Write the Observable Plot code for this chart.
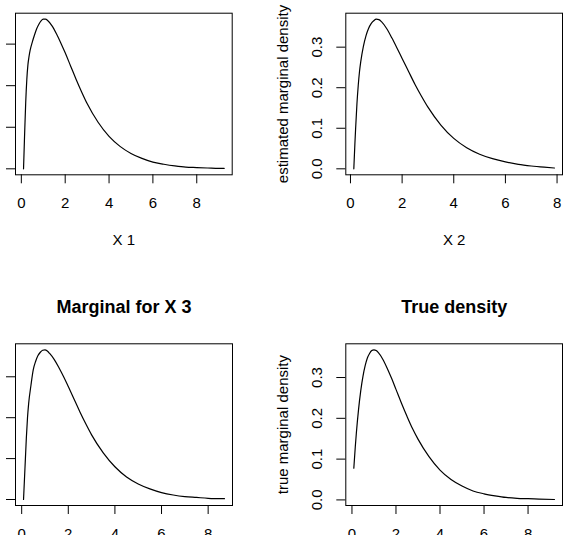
<!DOCTYPE html>
<html>
<head>
<meta charset="utf-8">
<script src="https://cdn.jsdelivr.net/npm/d3@7"></script>
<script src="https://cdn.jsdelivr.net/npm/@observablehq/plot@0.6"></script>
<style>
  body { margin: 0; background: #fff; }
  #root { position: relative; width: 572px; height: 535px; overflow: hidden; background: #fff; }
  .panel { position: absolute; overflow: visible; }
  .panel svg { max-width: none; display: block; overflow: visible; }
</style>
</head>
<body>
<div id="root"></div>
<script>
// ---- data ----
// Panel 1: estimated marginal for X 1
const x1 = [0.1, 0.13, 0.16, 0.2, 0.25, 0.3, 0.35, 0.4, 0.5, 0.6, 0.7, 0.8, 0.9, 1.0, 1.1, 1.2, 1.4, 1.6, 1.8, 2.0, 2.25, 2.5, 2.75, 3.0, 3.5, 4.0, 4.5, 5.0, 5.5, 6.0, 6.5, 7.0, 7.5, 8.0, 8.5, 9.0, 9.25];
const y1 = [0.0, 0.05, 0.1, 0.16, 0.215, 0.25, 0.27, 0.285, 0.305, 0.322, 0.337, 0.348, 0.356, 0.36, 0.36, 0.357, 0.344, 0.325, 0.303, 0.279, 0.247, 0.215, 0.185, 0.157, 0.112, 0.078, 0.054, 0.037, 0.025, 0.016, 0.011, 0.007, 0.004, 0.003, 0.002, 0.001, 0.001];
// Panel 2: estimated marginal for X 2
const x2 = [0.13, 0.17, 0.2, 0.25, 0.3, 0.35, 0.4, 0.5, 0.6, 0.7, 0.8, 0.9, 1.0, 1.1, 1.2, 1.4, 1.6, 1.8, 2.0, 2.25, 2.5, 2.75, 3.0, 3.5, 4.0, 4.5, 5.0, 5.5, 6.0, 6.5, 7.0, 7.5, 7.9];
const y2 = [0.0, 0.06, 0.1, 0.16, 0.205, 0.24, 0.265, 0.302, 0.328, 0.346, 0.358, 0.365, 0.369, 0.368, 0.363, 0.346, 0.323, 0.298, 0.272, 0.24, 0.208, 0.179, 0.152, 0.108, 0.075, 0.052, 0.036, 0.025, 0.017, 0.011, 0.007, 0.004, 0.002];
// Panel 3: estimated marginal for X 3
const x3 = [0.08, 0.12, 0.16, 0.2, 0.25, 0.3, 0.4, 0.5, 0.6, 0.7, 0.8, 0.9, 1.0, 1.1, 1.2, 1.4, 1.6, 1.8, 2.0, 2.25, 2.5, 2.75, 3.0, 3.5, 4.0, 4.5, 5.0, 5.5, 6.0, 6.5, 7.0, 7.5, 8.0, 8.7];
const y3 = [0.0, 0.05, 0.1, 0.15, 0.2, 0.235, 0.28, 0.318, 0.338, 0.352, 0.36, 0.365, 0.366, 0.363, 0.357, 0.342, 0.322, 0.3, 0.276, 0.245, 0.214, 0.185, 0.158, 0.114, 0.08, 0.055, 0.038, 0.026, 0.017, 0.011, 0.007, 0.005, 0.003, 0.002];
// Panel 4: true density
const x4 = [0.085, 0.1, 0.15, 0.2, 0.3, 0.4, 0.5, 0.6, 0.7, 0.8, 0.9, 1.0, 1.1, 1.2, 1.4, 1.6, 1.8, 2.0, 2.25, 2.5, 2.75, 3.0, 3.5, 4.0, 4.5, 5.0, 5.5, 6.0, 6.5, 7.0, 7.5, 8.0, 8.5, 9.2];
const y4 = [0.078, 0.09, 0.129, 0.164, 0.222, 0.268, 0.303, 0.329, 0.348, 0.359, 0.366, 0.368, 0.366, 0.361, 0.345, 0.323, 0.298, 0.271, 0.237, 0.205, 0.175, 0.149, 0.106, 0.073, 0.05, 0.034, 0.022, 0.015, 0.01, 0.006, 0.004, 0.003, 0.002, 0.001];

const xTicks = [0, 2, 4, 6, 8];
const yTicks = [0, 0.1, 0.2, 0.3];
const xLabels = ["X 1", "X 2", null, null];
const yLabels = [null, "estimated marginal density", null, "true marginal density"];
const titles = [null, null, "Marginal for X 3", "True density"];

// ---- layout ----
const FONT = "'Liberation Sans', Arial, Helvetica, sans-serif";
const layout = [
  {left: 0,   top: 0,   w: 286, h: 267, fl: 15,    ft: 12.7,  fr: 231.7, fb: 174.3, yText: false},
  {left: 286, top: 0,   w: 286, h: 267, fl: 345.3, ft: 12.7,  fr: 562,   fb: 174.3, yText: true},
  {left: 0,   top: 267, w: 286, h: 268, fl: 15,    ft: 343.3, fr: 232,   fb: 505,   yText: false},
  {left: 286, top: 267, w: 286, h: 268, fl: 345.3, ft: 343.3, fr: 562,   fb: 505,   yText: true}
];
const series = [[x1, y1], [x2, y2], [x3, y3], [x4, y4]];

// R-style 4% axis padding
function rRange(vals) {
  const [a, b] = d3.extent(vals);
  const p = (b - a) * 0.04;
  return [a - p, b + p];
}

const root = document.getElementById("root");
series.forEach(([xs, ys], i) => {
  const L = layout[i];
  const data = xs.map((x, j) => ({x, y: ys[j]}));
  const marks = [
    Plot.frame({stroke: "black", strokeWidth: 1}),
    Plot.line(data, {x: "x", y: "y", stroke: "black", strokeWidth: 1.2, curve: "monotone-x"}),
    Plot.axisX({
      ticks: xTicks, tickSize: 9, tickPadding: 13.6, tickFormat: d => String(d),
      fontSize: 15, label: xLabels[i], labelAnchor: "center", labelOffset: 70.6, labelArrow: "none"
    }),
    Plot.axisY({
      ticks: yTicks, tickSize: 9, tickPadding: 19.6, tickRotate: -90,
      textAnchor: "middle", lineAnchor: "middle",
      tickFormat: L.yText ? d3.format(".1f") : () => "",
      fontSize: 15, label: yLabels[i], labelAnchor: "center", labelOffset: 68.6, labelArrow: "none"
    })
  ];
  if (titles[i]) {
    marks.push(Plot.text([titles[i]], {
      text: d => d, frameAnchor: "top", dy: -31.3, lineAnchor: "bottom",
      fontSize: 18, fontWeight: "bold", fill: "black"
    }));
  }
  const svg = Plot.plot({
    width: L.w, height: L.h,
    marginLeft: L.fl - L.left, marginRight: L.left + L.w - L.fr,
    marginTop: L.ft - L.top, marginBottom: L.top + L.h - L.fb,
    x: {domain: rRange(xs)},
    y: {domain: rRange(ys)},
    style: {fontFamily: FONT, fontSize: "15px", color: "black", background: "transparent", overflow: "visible"},
    marks
  });
  const div = document.createElement("div");
  div.className = "panel";
  div.style.left = L.left + "px";
  div.style.top = L.top + "px";
  div.style.width = L.w + "px";
  div.style.height = L.h + "px";
  div.appendChild(svg);
  root.appendChild(div);
});
</script>
</body>
</html>
